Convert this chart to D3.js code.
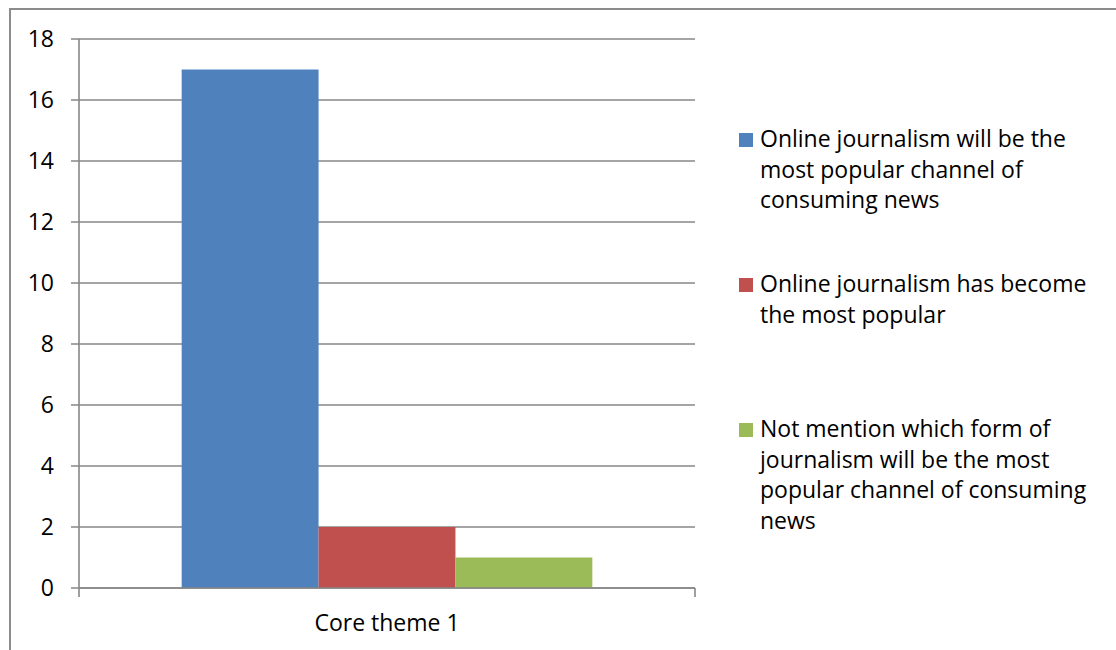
<!DOCTYPE html>
<html><head><meta charset="utf-8">
<script src="https://cdn.jsdelivr.net/npm/d3@7"></script>
<style>
html,body{margin:0;padding:0;background:#fff;}
text{font-family:"Open Sans",Lato,sans-serif;fill:#000;}
</style></head>
<body><svg id="c" width="1116" height="650"></svg>
<script>
const categories = ["Core theme 1"];
const seriesNames = [
  "Online journalism will be the most popular channel of consuming news",
  "Online journalism has become the most popular",
  "Not mention which form of journalism will be the most popular channel of consuming news"
];
const seriesValues = [[17], [2], [1]];
const seriesColors = ["#4F81BD", "#C0504D", "#9BBB59"];
const yTicks = [0, 2, 4, 6, 8, 10, 12, 14, 16, 18];
const legendLines = [
  ["Online journalism will be the", "most popular channel of", "consuming news"],
  ["Online journalism has become", "the most popular"],
  ["Not mention which form of", "journalism will be the most", "popular channel of consuming", "news"]
];

const svg = d3.select("#c");
const fs = 23;
svg.append("rect").attr("x", 10).attr("y", 9).attr("width", 1120).attr("height", 660)
  .attr("fill", "none").attr("stroke", "#8c8c8c").attr("stroke-width", 2);

const pL = 79, pR = 695, pT = 39, pB = 588;
const y = d3.scaleLinear().domain([0, 18]).range([pB, pT]);
const x0 = d3.scaleBand().domain(categories).range([pL, pR]).paddingInner(0).paddingOuter(0);
const x1 = d3.scaleBand().domain(d3.range(seriesNames.length))
  .range([0, x0.bandwidth()]).paddingInner(0).paddingOuter(0.75);

svg.append("g").selectAll("line").data(yTicks).join("line")
  .attr("x1", pL - 8).attr("x2", pR)
  .attr("y1", d => y(d)).attr("y2", d => y(d))
  .attr("stroke", "#878787").attr("stroke-width", 1.6);

const gCat = svg.append("g").selectAll("g").data(categories).join("g")
  .attr("transform", d => `translate(${x0(d)},0)`);
seriesNames.forEach((s, i) => {
  gCat.append("rect")
    .attr("x", () => x1(i))
    .attr("width", x1.bandwidth())
    .attr("y", (d, ci) => y(seriesValues[i][ci]))
    .attr("height", (d, ci) => y(0) - y(seriesValues[i][ci]))
    .attr("fill", seriesColors[i]);
});

svg.append("line").attr("x1", pL).attr("x2", pL).attr("y1", pT).attr("y2", pB + 9)
  .attr("stroke", "#878787").attr("stroke-width", 1.6);
svg.append("line").attr("x1", pL).attr("x2", pR).attr("y1", pB).attr("y2", pB)
  .attr("stroke", "#878787").attr("stroke-width", 1.6);
svg.append("line").attr("x1", pR).attr("x2", pR).attr("y1", pB).attr("y2", pB + 9)
  .attr("stroke", "#878787").attr("stroke-width", 1.6);

svg.append("g").selectAll("text").data(yTicks).join("text")
  .attr("x", 54).attr("y", d => y(d)).attr("dy", "0.36em")
  .attr("text-anchor", "end").attr("font-size", fs).text(d => d);

svg.append("g").selectAll("text").data(categories).join("text")
  .attr("x", d => x0(d) + x0.bandwidth() / 2).attr("y", 631)
  .attr("text-anchor", "middle").attr("font-size", fs).text(d => d);

const legendY = [147, 292, 437];
const lg = svg.append("g");
seriesNames.forEach((s, i) => {
  lg.append("rect").attr("x", 739).attr("y", legendY[i] - 14).attr("width", 14).attr("height", 14)
    .attr("fill", seriesColors[i]);
  const t = lg.append("text").attr("x", 760).attr("y", legendY[i]).attr("font-size", fs);
  legendLines[i].forEach((ln, j) => {
    t.append("tspan").attr("x", 760).attr("y", legendY[i] + j * 30.5).text(ln);
  });
});
</script></body></html>
